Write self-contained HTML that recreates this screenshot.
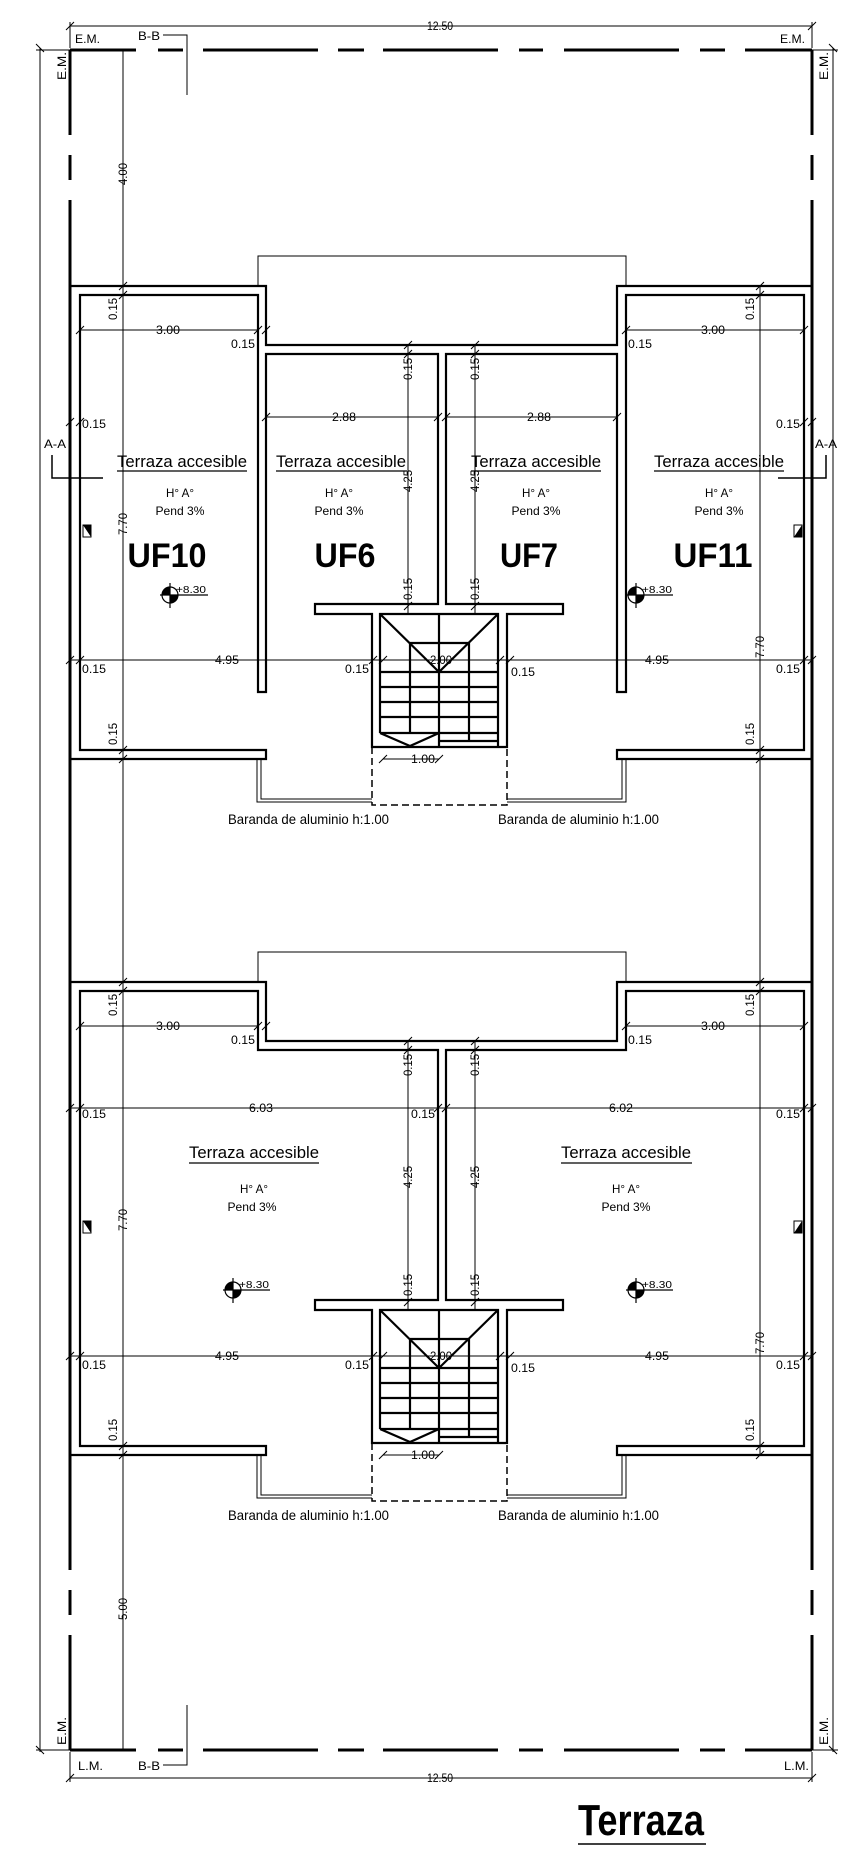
<!DOCTYPE html>
<html><head><meta charset="utf-8"><style>
html,body{margin:0;padding:0;background:#fff;}
svg{display:block;}
text{font-family:"Liberation Sans",sans-serif;fill:#000;}
</style></head><body>
<svg width="867" height="1871" viewBox="0 0 867 1871" xmlns="http://www.w3.org/2000/svg">
<rect width="867" height="1871" fill="#fff"/>
<!-- outer dims -->
<g stroke="#000" stroke-width="1" fill="none">
<line x1="70" y1="26" x2="812" y2="26"/>
<line x1="70" y1="1778" x2="812" y2="1778"/>
<line x1="40" y1="48" x2="40" y2="1752"/>
<line x1="833" y1="48" x2="833" y2="1752"/>
<line x1="70" y1="22" x2="70" y2="48"/><line x1="812" y1="22" x2="812" y2="48"/>
<line x1="70" y1="1752" x2="70" y2="1782"/><line x1="812" y1="1752" x2="812" y2="1782"/>
<line x1="36" y1="50" x2="70" y2="50"/><line x1="812" y1="50" x2="838" y2="50"/>
<line x1="36" y1="1750" x2="70" y2="1750"/><line x1="812" y1="1750" x2="838" y2="1750"/>
<path d="M66,30 l8,-8 M808,30 l8,-8 M66,1782 l8,-8 M808,1782 l8,-8 M36,44 l8,8 M829,44 l8,8 M36,1746 l8,8 M829,1746 l8,8"/>
<line x1="123" y1="50" x2="123" y2="1750"/>
<line x1="760" y1="286" x2="760" y2="1455"/>
<path d="M163,35 H187 V95 M163,1765 H187 V1705"/>
</g>
<g font-size="12">
<text x="440" y="30" text-anchor="middle" textLength="26" lengthAdjust="spacingAndGlyphs">12.50</text>
<text x="440" y="1782" text-anchor="middle" textLength="26" lengthAdjust="spacingAndGlyphs">12.50</text>
<text x="75" y="43" textLength="25" lengthAdjust="spacingAndGlyphs">E.M.</text>
<text x="780" y="43" textLength="25" lengthAdjust="spacingAndGlyphs">E.M.</text>
<text x="138" y="40" textLength="22" lengthAdjust="spacingAndGlyphs">B-B</text>
<text x="138" y="1770" textLength="22" lengthAdjust="spacingAndGlyphs">B-B</text>
<text x="78" y="1770" textLength="25" lengthAdjust="spacingAndGlyphs">L.M.</text>
<text x="784" y="1770" textLength="25" lengthAdjust="spacingAndGlyphs">L.M.</text>
<text transform="translate(66,80) rotate(-90)" textLength="28" lengthAdjust="spacingAndGlyphs">E.M.</text>
<text transform="translate(828,80) rotate(-90)" textLength="28" lengthAdjust="spacingAndGlyphs">E.M.</text>
<text transform="translate(66,1745) rotate(-90)" textLength="28" lengthAdjust="spacingAndGlyphs">E.M.</text>
<text transform="translate(828,1745) rotate(-90)" textLength="28" lengthAdjust="spacingAndGlyphs">E.M.</text>
<text transform="translate(127,185) rotate(-90)" textLength="22" lengthAdjust="spacingAndGlyphs">4.00</text>
<text transform="translate(127,1620) rotate(-90)" textLength="22" lengthAdjust="spacingAndGlyphs">5.00</text>
</g>
<!-- property dashed lines -->
<g stroke="#000" stroke-width="3" fill="none">
<path d="M70,50 H136 M158,50 H183 M203,50 H318 M338,50 H364 M383,50 H498 M519,50 H543 M564,50 H679 M700,50 H725 M745,50 H812"/>
<path d="M70,1750 H136 M158,1750 H183 M203,1750 H318 M338,1750 H364 M383,1750 H498 M519,1750 H543 M564,1750 H679 M700,1750 H725 M745,1750 H812"/>
<path d="M70,50 V135 M70,155 V180 M70,200 V1570 M70,1590 V1615 M70,1635 V1750"/>
<path d="M812,50 V135 M812,155 V180 M812,200 V1570 M812,1590 V1615 M812,1635 V1750"/>
</g>
<!-- A-A -->
<g stroke="#000" stroke-width="1.5" fill="none"><path d="M52,455 V478 H103 M826,455 V478 H778"/></g>
<g font-size="12"><text x="44" y="448" textLength="22" lengthAdjust="spacingAndGlyphs">A-A</text><text x="815" y="448" textLength="22" lengthAdjust="spacingAndGlyphs">A-A</text></g>

<!-- UPPER BLOCK -->
<g id="blk">
<g stroke="#000" stroke-width="1" fill="none">
<path d="M258,286 V256 H626 V286"/>
<path d="M257,759 V802 H372 M261,759 V799 H372 M626,759 V802 H507 M622,759 V799 H507"/>
<path d="M372,747 V805 H507 V747" stroke-dasharray="7,4" stroke-width="1.5"/>
<!-- dims -->
<path d="M80,330 H258 M626,330 H804 M266,417 H438 M446,417 H617 M70,660 H812 M408,345 V614 M475,345 V614 M383,759 H439"/>
<path d="M76,334 l8,-8 M254,334 l8,-8 M262,334 l8,-8 M622,334 l8,-8 M800,334 l8,-8 M262,421 l8,-8 M434,421 l8,-8 M442,421 l8,-8 M613,421 l8,-8 M66,664 l8,-8 M76,664 l8,-8 M369,664 l8,-8 M379,664 l8,-8 M496,664 l8,-8 M506,664 l8,-8 M800,664 l8,-8 M808,664 l8,-8 M404,349 l8,-8 M404,358 l8,-8 M404,610 l8,-8 M471,349 l8,-8 M471,358 l8,-8 M471,610 l8,-8 M119,290 l8,-8 M119,299 l8,-8 M119,754 l8,-8 M119,763 l8,-8 M756,290 l8,-8 M756,299 l8,-8 M756,754 l8,-8 M756,763 l8,-8 M379,763 l8,-8 M435,763 l8,-8 M76,426 l8,-8 M66,426 l8,-8 M800,426 l8,-8 M808,426 l8,-8"/>
</g>
<g stroke="#000" stroke-width="2.2" fill="none">
<path d="M70,286 H266 V345 H617 V286 H812"/>
<path d="M70,759 H266 V750 H80 V295 H258 V692 H266 V354 H438 V604 H315 V614 H372 V747 H507 V614 H563 V604 H446 V354 H617 V692 H626 V295 H804 V750 H617 V759 H812"/>
<path d="M380,733 V614 H498 V747 M380,614 L439,672 L498,614 M410,643 H469 M410,643 V733 M469,643 V741 M439,614 V747 M380,672 H498 M380,687 H498 M380,702 H498 M380,717 H498 M380,733 H498 M380,733 L410,746 L439,733 M439,741 H498"/>
</g>
<g font-size="12">
<text transform="translate(117,320) rotate(-90)" textLength="22" lengthAdjust="spacingAndGlyphs">0.15</text>
<text transform="translate(754,320) rotate(-90)" textLength="22" lengthAdjust="spacingAndGlyphs">0.15</text>
<text transform="translate(117,745) rotate(-90)" textLength="22" lengthAdjust="spacingAndGlyphs">0.15</text>
<text transform="translate(754,745) rotate(-90)" textLength="22" lengthAdjust="spacingAndGlyphs">0.15</text>
<text x="168" y="334" text-anchor="middle" textLength="24" lengthAdjust="spacingAndGlyphs">3.00</text>
<text x="713" y="334" text-anchor="middle" textLength="24" lengthAdjust="spacingAndGlyphs">3.00</text>
<text x="231" y="348" textLength="24" lengthAdjust="spacingAndGlyphs">0.15</text>
<text x="628" y="348" textLength="24" lengthAdjust="spacingAndGlyphs">0.15</text>
<text x="344" y="421" text-anchor="middle" textLength="24" lengthAdjust="spacingAndGlyphs">2.88</text>
<text x="539" y="421" text-anchor="middle" textLength="24" lengthAdjust="spacingAndGlyphs">2.88</text>
<text x="82" y="428" textLength="24" lengthAdjust="spacingAndGlyphs">0.15</text>
<text x="776" y="428" textLength="24" lengthAdjust="spacingAndGlyphs">0.15</text>
<text x="227" y="664" text-anchor="middle" textLength="24" lengthAdjust="spacingAndGlyphs">4.95</text>
<text x="657" y="664" text-anchor="middle" textLength="24" lengthAdjust="spacingAndGlyphs">4.95</text>
<text x="441" y="664" text-anchor="middle" textLength="22" lengthAdjust="spacingAndGlyphs">2.00</text>
<text x="82" y="673" textLength="24" lengthAdjust="spacingAndGlyphs">0.15</text>
<text x="345" y="673" textLength="24" lengthAdjust="spacingAndGlyphs">0.15</text>
<text x="511" y="676" textLength="24" lengthAdjust="spacingAndGlyphs">0.15</text>
<text x="776" y="673" textLength="24" lengthAdjust="spacingAndGlyphs">0.15</text>
<text x="411" y="763" textLength="24" lengthAdjust="spacingAndGlyphs">1.00</text>
<text transform="translate(412,380) rotate(-90)" textLength="22" lengthAdjust="spacingAndGlyphs">0.15</text>
<text transform="translate(479,380) rotate(-90)" textLength="22" lengthAdjust="spacingAndGlyphs">0.15</text>
<text transform="translate(412,600) rotate(-90)" textLength="22" lengthAdjust="spacingAndGlyphs">0.15</text>
<text transform="translate(479,600) rotate(-90)" textLength="22" lengthAdjust="spacingAndGlyphs">0.15</text>
<text x="228" y="824" font-size="14" textLength="161" lengthAdjust="spacingAndGlyphs">Baranda de aluminio h:1.00</text>
<text x="498" y="824" font-size="14" textLength="161" lengthAdjust="spacingAndGlyphs">Baranda de aluminio h:1.00</text>
</g>
<g stroke="#000" stroke-width="1"><rect x="83" y="525" width="8" height="12" fill="#fff"/><rect x="794" y="525" width="8" height="12" fill="#fff"/></g>
<path d="M83,525 h8 v12 z M802,525 v12 h-8 z" fill="#000"/>
</g>

<!-- upper-only parts -->
<g stroke="#000" stroke-width="1" fill="none"><path d="M408,345 V614"/></g>
<g font-size="12">
<text transform="translate(127,535) rotate(-90)" textLength="22" lengthAdjust="spacingAndGlyphs">7.70</text>
<text transform="translate(764,658) rotate(-90)" textLength="22" lengthAdjust="spacingAndGlyphs">7.70</text>
<text transform="translate(412,492) rotate(-90)" textLength="22" lengthAdjust="spacingAndGlyphs">4.25</text>
<text transform="translate(479,492) rotate(-90)" textLength="22" lengthAdjust="spacingAndGlyphs">4.25</text>
</g>
<g text-anchor="middle">
<text x="182" y="467" font-size="17" textLength="130" lengthAdjust="spacingAndGlyphs">Terraza accesible</text>
<text x="341" y="467" font-size="17" textLength="130" lengthAdjust="spacingAndGlyphs">Terraza accesible</text>
<text x="536" y="467" font-size="17" textLength="130" lengthAdjust="spacingAndGlyphs">Terraza accesible</text>
<text x="719" y="467" font-size="17" textLength="130" lengthAdjust="spacingAndGlyphs">Terraza accesible</text>
<text x="180" y="497" font-size="12" textLength="28" lengthAdjust="spacingAndGlyphs">H° A°</text>
<text x="339" y="497" font-size="12" textLength="28" lengthAdjust="spacingAndGlyphs">H° A°</text>
<text x="536" y="497" font-size="12" textLength="28" lengthAdjust="spacingAndGlyphs">H° A°</text>
<text x="719" y="497" font-size="12" textLength="28" lengthAdjust="spacingAndGlyphs">H° A°</text>
<text x="180" y="515" font-size="12" textLength="49" lengthAdjust="spacingAndGlyphs">Pend 3%</text>
<text x="339" y="515" font-size="12" textLength="49" lengthAdjust="spacingAndGlyphs">Pend 3%</text>
<text x="536" y="515" font-size="12" textLength="49" lengthAdjust="spacingAndGlyphs">Pend 3%</text>
<text x="719" y="515" font-size="12" textLength="49" lengthAdjust="spacingAndGlyphs">Pend 3%</text>
<text x="167" y="567" font-size="34" font-weight="bold" textLength="79" lengthAdjust="spacingAndGlyphs">UF10</text>
<text x="345" y="567" font-size="34" font-weight="bold" textLength="61" lengthAdjust="spacingAndGlyphs">UF6</text>
<text x="529" y="567" font-size="34" font-weight="bold" textLength="58" lengthAdjust="spacingAndGlyphs">UF7</text>
<text x="713" y="567" font-size="34" font-weight="bold" textLength="79" lengthAdjust="spacingAndGlyphs">UF11</text>
</g>
<g stroke="#000" stroke-width="1.2" fill="none">
<circle cx="170" cy="595" r="8" fill="#fff"/><path d="M170,583 V608 M160,595 H208"/>
<circle cx="636" cy="595" r="8" fill="#fff"/><path d="M636,583 V608 M626,595 H673"/>
</g>
<path d="M170,587 A8,8 0 0 0 162,595 H170 Z M170,595 H178 A8,8 0 0 1 170,603 Z M636,587 A8,8 0 0 0 628,595 H636 Z M636,595 H644 A8,8 0 0 1 636,603 Z" fill="#000"/>
<g font-size="10"><text x="176" y="593" textLength="30" lengthAdjust="spacingAndGlyphs">+8.30</text><text x="642" y="593" textLength="30" lengthAdjust="spacingAndGlyphs">+8.30</text></g>

<!-- LOWER BLOCK -->
<g transform="translate(0,696)">
<g stroke="#000" stroke-width="1" fill="none">
<path d="M258,286 V256 H626 V286"/>
<path d="M257,759 V802 H372 M261,759 V799 H372 M626,759 V802 H507 M622,759 V799 H507"/>
<path d="M372,747 V805 H507 V747" stroke-dasharray="7,4" stroke-width="1.5"/>
<path d="M80,330 H258 M626,330 H804 M70,412 H812 M70,660 H812 M408,345 V614 M475,345 V614 M383,759 H439"/>
<path d="M76,334 l8,-8 M254,334 l8,-8 M262,334 l8,-8 M622,334 l8,-8 M800,334 l8,-8 M66,416 l8,-8 M76,416 l8,-8 M434,416 l8,-8 M442,416 l8,-8 M800,416 l8,-8 M808,416 l8,-8 M66,664 l8,-8 M76,664 l8,-8 M369,664 l8,-8 M379,664 l8,-8 M496,664 l8,-8 M506,664 l8,-8 M800,664 l8,-8 M808,664 l8,-8 M404,349 l8,-8 M404,358 l8,-8 M404,610 l8,-8 M471,349 l8,-8 M471,358 l8,-8 M471,610 l8,-8 M119,290 l8,-8 M119,299 l8,-8 M119,754 l8,-8 M119,763 l8,-8 M756,290 l8,-8 M756,299 l8,-8 M756,754 l8,-8 M756,763 l8,-8 M379,763 l8,-8 M435,763 l8,-8"/>
</g>
<g stroke="#000" stroke-width="2.2" fill="none">
<path d="M70,286 H266 V345 H617 V286 H812"/>
<path d="M70,759 H266 V750 H80 V295 H258 V354 H438 V604 H315 V614 H372 V747 H507 V614 H563 V604 H446 V354 H626 V295 H804 V750 H617 V759 H812"/>
<path d="M380,733 V614 H498 V747 M380,614 L439,672 L498,614 M410,643 H469 M410,643 V733 M469,643 V741 M439,614 V747 M380,672 H498 M380,687 H498 M380,702 H498 M380,717 H498 M380,733 H498 M380,733 L410,746 L439,733 M439,741 H498"/>
</g>
<g font-size="12">
<text transform="translate(117,320) rotate(-90)" textLength="22" lengthAdjust="spacingAndGlyphs">0.15</text>
<text transform="translate(754,320) rotate(-90)" textLength="22" lengthAdjust="spacingAndGlyphs">0.15</text>
<text transform="translate(117,745) rotate(-90)" textLength="22" lengthAdjust="spacingAndGlyphs">0.15</text>
<text transform="translate(754,745) rotate(-90)" textLength="22" lengthAdjust="spacingAndGlyphs">0.15</text>
<text x="168" y="334" text-anchor="middle" textLength="24" lengthAdjust="spacingAndGlyphs">3.00</text>
<text x="713" y="334" text-anchor="middle" textLength="24" lengthAdjust="spacingAndGlyphs">3.00</text>
<text x="231" y="348" textLength="24" lengthAdjust="spacingAndGlyphs">0.15</text>
<text x="628" y="348" textLength="24" lengthAdjust="spacingAndGlyphs">0.15</text>
<text x="261" y="416" text-anchor="middle" textLength="24" lengthAdjust="spacingAndGlyphs">6.03</text>
<text x="621" y="416" text-anchor="middle" textLength="24" lengthAdjust="spacingAndGlyphs">6.02</text>
<text x="82" y="422" textLength="24" lengthAdjust="spacingAndGlyphs">0.15</text>
<text x="411" y="422" textLength="24" lengthAdjust="spacingAndGlyphs">0.15</text>
<text x="776" y="422" textLength="24" lengthAdjust="spacingAndGlyphs">0.15</text>
<text x="227" y="664" text-anchor="middle" textLength="24" lengthAdjust="spacingAndGlyphs">4.95</text>
<text x="657" y="664" text-anchor="middle" textLength="24" lengthAdjust="spacingAndGlyphs">4.95</text>
<text x="441" y="664" text-anchor="middle" textLength="22" lengthAdjust="spacingAndGlyphs">2.00</text>
<text x="82" y="673" textLength="24" lengthAdjust="spacingAndGlyphs">0.15</text>
<text x="345" y="673" textLength="24" lengthAdjust="spacingAndGlyphs">0.15</text>
<text x="511" y="676" textLength="24" lengthAdjust="spacingAndGlyphs">0.15</text>
<text x="776" y="673" textLength="24" lengthAdjust="spacingAndGlyphs">0.15</text>
<text x="411" y="763" textLength="24" lengthAdjust="spacingAndGlyphs">1.00</text>
<text transform="translate(412,380) rotate(-90)" textLength="22" lengthAdjust="spacingAndGlyphs">0.15</text>
<text transform="translate(479,380) rotate(-90)" textLength="22" lengthAdjust="spacingAndGlyphs">0.15</text>
<text transform="translate(412,600) rotate(-90)" textLength="22" lengthAdjust="spacingAndGlyphs">0.15</text>
<text transform="translate(479,600) rotate(-90)" textLength="22" lengthAdjust="spacingAndGlyphs">0.15</text>
<text transform="translate(127,535) rotate(-90)" textLength="22" lengthAdjust="spacingAndGlyphs">7.70</text>
<text transform="translate(764,658) rotate(-90)" textLength="22" lengthAdjust="spacingAndGlyphs">7.70</text>
<text transform="translate(412,492) rotate(-90)" textLength="22" lengthAdjust="spacingAndGlyphs">4.25</text>
<text transform="translate(479,492) rotate(-90)" textLength="22" lengthAdjust="spacingAndGlyphs">4.25</text>
<text x="228" y="824" font-size="14" textLength="161" lengthAdjust="spacingAndGlyphs">Baranda de aluminio h:1.00</text>
<text x="498" y="824" font-size="14" textLength="161" lengthAdjust="spacingAndGlyphs">Baranda de aluminio h:1.00</text>
</g>
<g stroke="#000" stroke-width="1"><rect x="83" y="525" width="8" height="12" fill="#fff"/><rect x="794" y="525" width="8" height="12" fill="#fff"/></g>
<path d="M83,525 h8 v12 z M802,525 v12 h-8 z" fill="#000"/>
<g text-anchor="middle">
<text x="254" y="462" font-size="17" textLength="130" lengthAdjust="spacingAndGlyphs">Terraza accesible</text>
<text x="626" y="462" font-size="17" textLength="130" lengthAdjust="spacingAndGlyphs">Terraza accesible</text>
<text x="254" y="497" font-size="12" textLength="28" lengthAdjust="spacingAndGlyphs">H° A°</text>
<text x="626" y="497" font-size="12" textLength="28" lengthAdjust="spacingAndGlyphs">H° A°</text>
<text x="252" y="515" font-size="12" textLength="49" lengthAdjust="spacingAndGlyphs">Pend 3%</text>
<text x="626" y="515" font-size="12" textLength="49" lengthAdjust="spacingAndGlyphs">Pend 3%</text>
</g>
<g stroke="#000" stroke-width="1.2" fill="none">
<path d="M189,467 H319 M561,467 H692"/>
<circle cx="233" cy="594" r="8" fill="#fff"/><path d="M233,582 V607 M223,594 H270"/>
<circle cx="636" cy="594" r="8" fill="#fff"/><path d="M636,582 V607 M626,594 H673"/>
</g>
<path d="M233,586 A8,8 0 0 0 225,594 H233 Z M233,594 H241 A8,8 0 0 1 233,602 Z M636,586 A8,8 0 0 0 628,594 H636 Z M636,594 H644 A8,8 0 0 1 636,602 Z" fill="#000"/>
<g font-size="10"><text x="239" y="592" textLength="30" lengthAdjust="spacingAndGlyphs">+8.30</text><text x="642" y="592" textLength="30" lengthAdjust="spacingAndGlyphs">+8.30</text></g>
</g>
<g stroke="#000" stroke-width="1.2"><path d="M117,471 H247 M276,471 H407 M471,471 H601 M654,471 H784"/></g>

<!-- title -->
<text x="578" y="1835" font-size="44" font-weight="bold" textLength="126" lengthAdjust="spacingAndGlyphs">Terraza</text>
<line x1="578" y1="1844" x2="706" y2="1844" stroke="#000" stroke-width="1.5"/>
</svg>
</body></html>
